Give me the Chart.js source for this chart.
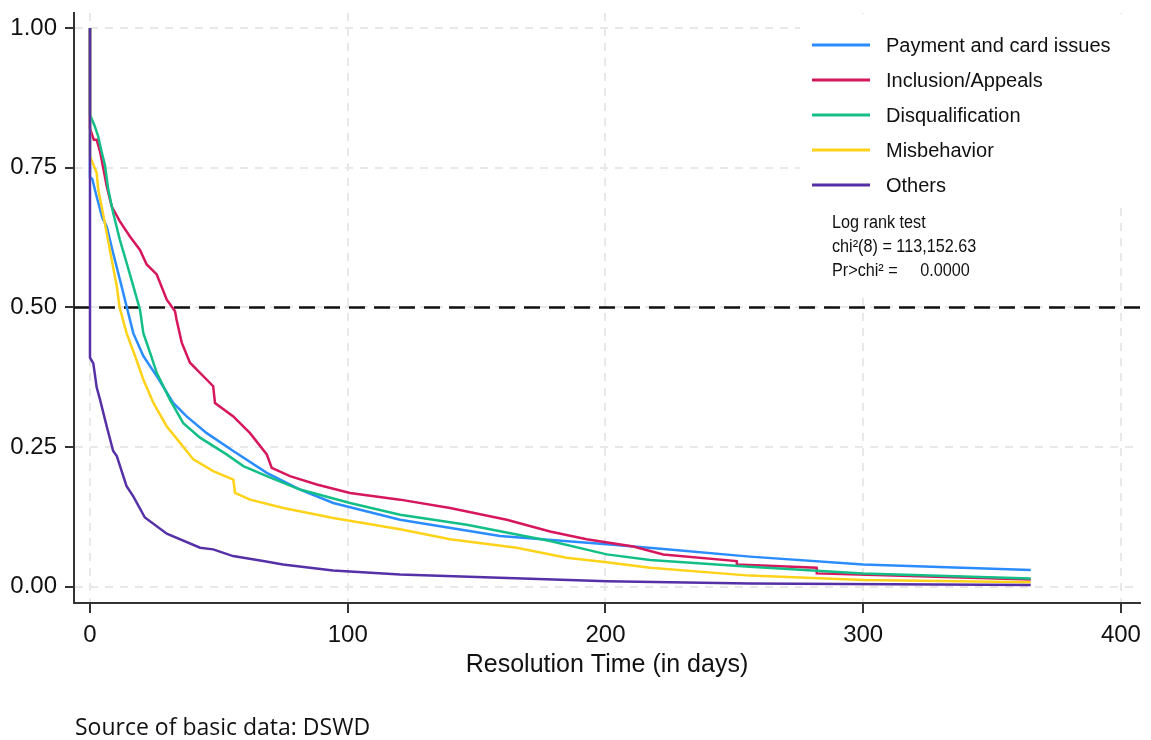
<!DOCTYPE html>
<html>
<head>
<meta charset="utf-8">
<script src="https://cdn.jsdelivr.net/npm/chart.js@4/dist/chart.umd.min.js"></script>
<style>
  body { margin: 0; background: #fff; }
  #wrap { position: relative; width: 1151px; height: 740px; }
  #source { position: absolute; left: 75px; top: 710px; font-family: "Open Sans"; font-size: 23px; color: #111; white-space: nowrap; }
</style>
</head>
<body>
<div id="wrap">
  <canvas id="myChart" width="1151" height="740"></canvas>
  <div id="source">Source of basic data: DSWD</div>
</div>
<script>
// Kaplan-Meier survival (days, share unresolved)
var payDays = [0, 0, 0.9, 2.5, 4.8, 6.5, 9, 11.6, 14.2, 16.8, 20.7, 25.9, 32.3, 37.5, 45.3, 55.6, 68.6, 81.5, 94.4, 120.3, 159.1, 200.5, 223.7, 256, 300, 365];
var payVals = [1, 0.733, 0.73, 0.70, 0.66, 0.645, 0.597, 0.55, 0.502, 0.454, 0.413, 0.377, 0.329, 0.305, 0.275, 0.243, 0.204, 0.174, 0.150, 0.120, 0.091, 0.076, 0.067, 0.054, 0.040, 0.030];

var incDays = [0, 0, 1.5, 2.6, 3.9, 6.5, 8.4, 11.6, 15.5, 19.4, 22, 25.9, 29.8, 33, 33.6, 35.6, 38.8, 42.7, 47.8, 48.5, 55.6, 62.1, 68.6, 70.5, 77.6, 88, 100.9, 120.3, 139.7, 161.7, 178.5, 192.7, 210.8, 222.4, 250.9, 251, 281.9, 282, 365];
var incVals = [1, 0.82, 0.80, 0.80, 0.779, 0.717, 0.681, 0.654, 0.627, 0.603, 0.577, 0.559, 0.514, 0.493, 0.478, 0.437, 0.401, 0.383, 0.359, 0.329, 0.305, 0.275, 0.237, 0.213, 0.198, 0.183, 0.168, 0.156, 0.141, 0.120, 0.099, 0.085, 0.072, 0.058, 0.046, 0.040, 0.034, 0.024, 0.013];

var disDays = [0, 0, 1.9, 3.2, 4.5, 5.8, 7.1, 9, 11.6, 14.2, 16.8, 19.4, 20.7, 23.3, 25.9, 31, 36.2, 42.7, 53, 59.5, 68.6, 81.5, 100.9, 120.3, 146.2, 178.5, 200.5, 217.3, 256, 300, 365];
var disVals = [1, 0.845, 0.824, 0.806, 0.779, 0.755, 0.711, 0.669, 0.621, 0.580, 0.538, 0.496, 0.454, 0.419, 0.383, 0.335, 0.293, 0.267, 0.237, 0.216, 0.198, 0.174, 0.150, 0.129, 0.111, 0.082, 0.058, 0.048, 0.036, 0.024, 0.015];

var misDays = [0, 0, 2.6, 3.2, 4.5, 6.5, 8.4, 10.4, 11.5, 14.2, 17.5, 20.7, 24.6, 29.8, 34.9, 40.1, 47.8, 55.6, 56.3, 62.1, 75, 94.4, 120.3, 139.7, 165.5, 184.9, 200.5, 217.3, 256, 300, 365];
var misVals = [1, 0.77, 0.741, 0.711, 0.681, 0.633, 0.586, 0.538, 0.50, 0.454, 0.413, 0.371, 0.329, 0.287, 0.258, 0.228, 0.207, 0.192, 0.168, 0.156, 0.141, 0.123, 0.103, 0.085, 0.070, 0.052, 0.044, 0.034, 0.020, 0.012, 0.008];

var othDays = [0, 0, 1.3, 2.6, 3.9, 6.5, 9, 10.4, 14.2, 16.8, 21.3, 29.8, 42.7, 47.8, 55.5, 67.2, 74.9, 94.3, 120.3, 200.6, 256, 365];
var othVals = [1, 0.41, 0.40, 0.357, 0.335, 0.287, 0.243, 0.234, 0.180, 0.162, 0.124, 0.095, 0.070, 0.067, 0.055, 0.046, 0.040, 0.029, 0.022, 0.010, 0.006, 0.003];

var labels = ['Payment and card issues', 'Inclusion/Appeals', 'Disqualification', 'Misbehavior', 'Others'];
var colors = ['#2b8cff', '#d6175c', '#13bf86', '#ffd21a', '#5630a6'];

var xTicks = [0, 100, 200, 300, 400];
var yTicks = [0, 0.25, 0.5, 0.75, 1];
var xMin = -6.2, xMax = 407.4;
var yMin = -0.029, yMax = 1.027;
var medianLine = 0.5;

var logRank = ['Log rank test', 'chi\u00b2(8) = 113,152.63', 'Pr>chi\u00b2 =     0.0000'];

function pairs(days, vals){
    var out = [];
    for (let i = 0; i < days.length; i++) {
        out.push({x: days[i], y: vals[i]});
    }
    return out;
}

var allDays = [payDays, incDays, disDays, misDays, othDays];
var allVals = [payVals, incVals, disVals, misVals, othVals];

var datasets = [];
for (let i = 0; i < labels.length; i++) {
    datasets.push({
        label: labels[i],
        data: pairs(allDays[i], allVals[i]),
        borderColor: colors[i],
        borderWidth: 2.5,
        pointRadius: 0,
        tension: 0,
        order: labels.length - 1 - i
    });
}
// reference line at 0.5
datasets.push({
    label: 'median',
    data: [{x: xMin, y: medianLine}, {x: xMax, y: medianLine}],
    borderColor: '#111',
    borderWidth: 2.5,
    borderDash: [16, 9],
    pointRadius: 0,
    order: 10
});

const overlay = {
    id: 'overlay',
    afterDatasetsDraw(chart) {
        const ctx = chart.ctx;
        ctx.save();
        ctx.fillStyle = '#fff';
        ctx.fillRect(800, 14, 333, 192);
        ctx.fillRect(822, 206, 190, 86);

        ctx.font = '20px "Liberation Sans", Arial, sans-serif';
        ctx.textBaseline = 'middle';
        ctx.textAlign = 'left';
        for (let i = 0; i < labels.length; i++) {
            var y = 45 + i * 35;
            ctx.strokeStyle = colors[i];
            ctx.lineWidth = 3;
            ctx.beginPath();
            ctx.moveTo(812, y);
            ctx.lineTo(870, y);
            ctx.stroke();
            ctx.fillStyle = '#111';
            ctx.fillText(labels[i], 886, y + 1);
        }

        ctx.scale(0.9, 1);
        ctx.font = '18px "Liberation Sans", Arial, sans-serif';
        ctx.fillStyle = '#111';
        for (let i = 0; i < logRank.length; i++) {
            ctx.fillText(logRank[i], 832 / 0.9, 223 + i * 24);
        }
        ctx.restore();
    }
};

const tickFont = {family: '"Liberation Sans", Arial, sans-serif', size: 24};

function noPad(s){
    s.paddingTop = 0; s.paddingBottom = 0; s.paddingLeft = 0; s.paddingRight = 0;
}

new Chart(document.getElementById('myChart'), {
    type: 'line',
    data: {datasets: datasets},
    options: {
        responsive: false,
        animation: false,
        layout: {padding: {left: 0, top: 13, right: 11, bottom: 60}},
        plugins: {legend: {display: false}, tooltip: {enabled: false}},
        scales: {
            x: {
                type: 'linear',
                min: xMin,
                max: xMax,
                afterBuildTicks: s => { s.ticks = xTicks.map(v => ({value: v})); },
                afterFit: s => { s.height = 77; noPad(s); },
                ticks: {font: tickFont, color: '#111', padding: 8, maxRotation: 0},
                grid: {color: '#e8e8e8', lineWidth: 2, tickLength: 10, tickColor: '#333', tickWidth: 2, tickBorderDash: []},
                border: {color: '#333', width: 2, dash: [8, 7]},
                title: {display: true, text: 'Resolution Time (in days)', color: '#111',
                        font: {family: '"Liberation Sans", Arial, sans-serif', size: 25}, padding: 0}
            },
            y: {
                type: 'linear',
                min: yMin,
                max: yMax,
                afterBuildTicks: s => { s.ticks = yTicks.map(v => ({value: v})); },
                afterFit: s => { s.width = 74; noPad(s); },
                ticks: {font: tickFont, color: '#111', padding: 8, callback: v => v.toFixed(2)},
                grid: {color: '#e8e8e8', lineWidth: 2, tickLength: 9, tickColor: '#333', tickWidth: 2, tickBorderDash: []},
                border: {color: '#333', width: 2, dash: [8, 7]}
            }
        }
    },
    plugins: [overlay]
});
</script>
</body>
</html>
